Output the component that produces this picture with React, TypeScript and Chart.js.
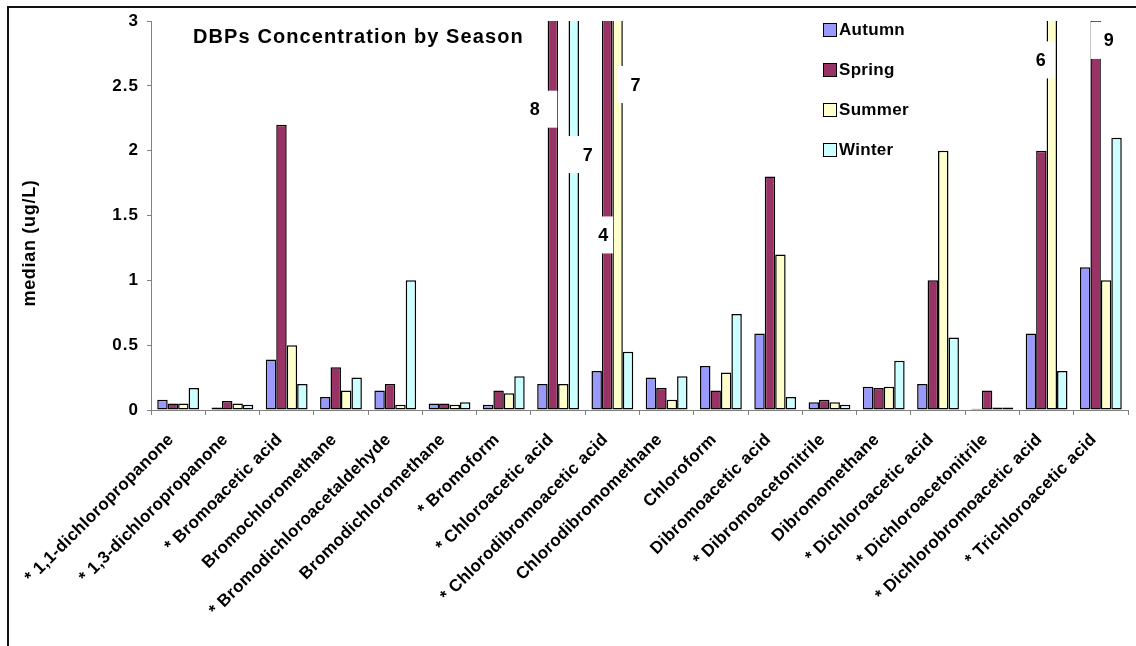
import React, { useEffect, useRef } from "react";
import { Chart, registerables } from "chart.js";

Chart.register(...registerables);

const FONT = "'Liberation Sans', Arial, Helvetica, sans-serif";

const categories = [
  "* 1,1-dichloropropanone",
  "* 1,3-dichloropropanone",
  "* Bromoacetic acid",
  "Bromochloromethane",
  "* Bromodichloroacetaldehyde",
  "Bromodichloromethane",
  "* Bromoform",
  "* Chloroacetic acid",
  "* Chlorodibromoacetic acid",
  "Chlorodibromomethane",
  "Chloroform",
  "Dibromoacetic acid",
  "* Dibromoacetonitrile",
  "Dibromomethane",
  "* Dichloroacetic acid",
  "* Dichloroacetonitrile",
  "* Dichlorobromoacetic acid",
  "* Trichloroacetic acid",
];

const seasons = ["Autumn", "Spring", "Summer", "Winter"];

// median concentrations (ug/L) per compound
const autumn = [0.08, 0.02, 0.39, 0.1, 0.15, 0.05, 0.04, 0.2, 0.3, 0.25, 0.34, 0.59, 0.06, 0.18, 0.2, 0.01, 0.59, 1.1];
const spring = [0.05, 0.07, 2.2, 0.33, 0.2, 0.05, 0.15, 8, 4, 0.17, 0.15, 1.8, 0.08, 0.17, 1.0, 0.15, 2.0, 9];
const summer = [0.05, 0.05, 0.5, 0.15, 0.04, 0.04, 0.13, 0.2, 7, 0.08, 0.29, 1.2, 0.06, 0.18, 2.0, 0.02, 6, 1.0];
const winter = [0.17, 0.04, 0.2, 0.25, 1.0, 0.06, 0.26, 7, 0.45, 0.26, 0.74, 0.1, 0.04, 0.38, 0.56, 0.02, 0.3, 2.1];

const seriesValues = [autumn, spring, summer, winter];
const seasonColors = ["#9999FF", "#993366", "#FFFFCC", "#CCFFFF"];

const yMin = 0;
const yMax = 3;
const yStep = 0.5;

// value callouts for bars that run past the top of the axis:
// series / index pick the bar, `at` is the callout centre on the value axis,
// dx / tx are box and text offsets from the bar centre, w the box width
const callouts = [
  { series: 1, index: 7, at: 2.32, dx: -10, w: 29, tx: -18 },
  { series: 3, index: 7, at: 1.97, dx: 9, w: 30, tx: 14 },
  { series: 1, index: 8, at: 1.35, dx: -2, w: 16, tx: -4 },
  { series: 2, index: 8, at: 2.51, dx: 16, w: 32, tx: 18 },
  { series: 2, index: 16, at: 2.7, dx: -8, w: 22, tx: -11 },
  { series: 1, index: 17, at: 2.85, dx: 10, w: 30, tx: 13 },
];

const chartTitle = "DBPs Concentration by Season";
const yTitle = "median (ug/L)";

const decorPlugin = {
  id: "decor",
  beforeDraw(chart: any) {
    // slightly open spacing for the axis tick text
    chart.ctx.letterSpacing = "1px";
  },
  afterDatasetsDraw(chart: any) {
    const { ctx, scales } = chart;
    ctx.save();
    ctx.letterSpacing = "0px";
    ctx.font = `bold 18px ${FONT}`;
    ctx.textAlign = "center";
    ctx.textBaseline = "middle";
    for (const c of callouts) {
      const bar = chart.getDatasetMeta(c.series).data[c.index] as any;
      const cy = scales.y.getPixelForValue(c.at);
      const h = 37;
      ctx.fillStyle = "#ffffff";
      ctx.fillRect(bar.x + c.dx - c.w / 2, cy - h / 2, c.w, h);
      ctx.fillStyle = "#000000";
      ctx.fillText(String(seriesValues[c.series][c.index]), bar.x + c.tx, cy + 1);
    }
    ctx.restore();
  },
  afterDraw(chart: any) {
    const { ctx, chartArea, scales } = chart;
    ctx.save();
    ctx.letterSpacing = "0px";
    // outer frame (top and left edges)
    ctx.strokeStyle = "#111111";
    ctx.lineWidth = 2;
    ctx.beginPath();
    ctx.moveTo(8, chart.height);
    ctx.lineTo(8, 7);
    ctx.lineTo(chart.width, 7);
    ctx.stroke();

    ctx.fillStyle = "#000000";

    // category labels, slanted at 45 degrees below the axis
    ctx.font = `bold 17px ${FONT}`;
    ctx.letterSpacing = "0.3px";
    ctx.textAlign = "right";
    ctx.textBaseline = "middle";
    categories.forEach((label, i) => {
      const x = scales.x.getPixelForValue(i);
      ctx.save();
      ctx.translate(x - 7, chartArea.bottom + 27);
      ctx.rotate(-Math.PI / 4);
      ctx.fillText(label, 0, 0);
      ctx.restore();
    });

    // title inside the plot
    ctx.font = `bold 20px ${FONT}`;
    ctx.letterSpacing = "1.1px";
    ctx.textAlign = "left";
    ctx.textBaseline = "alphabetic";
    ctx.fillText(chartTitle, chartArea.left + 42, 43);

    // value axis title
    ctx.save();
    ctx.translate(30, 243);
    ctx.rotate(-Math.PI / 2);
    ctx.font = `bold 18px ${FONT}`;
    ctx.letterSpacing = "0.7px";
    ctx.textAlign = "center";
    ctx.textBaseline = "middle";
    ctx.fillText(yTitle, 0, 0);
    ctx.restore();

    // legend
    const lx = chartArea.left + 672;
    ctx.letterSpacing = "0.3px";
    chart.data.datasets.forEach((ds: any, i: number) => {
      const base = 35 + i * 40;
      ctx.fillStyle = ds.backgroundColor;
      ctx.fillRect(lx, base - 12, 14, 14);
      ctx.strokeStyle = "#000000";
      ctx.lineWidth = 1;
      ctx.strokeRect(lx + 0.5, base - 11.5, 13, 13);
      ctx.fillStyle = "#000000";
      ctx.font = `bold 17px ${FONT}`;
      ctx.textAlign = "left";
      ctx.textBaseline = "alphabetic";
      ctx.fillText(ds.label, lx + 16, base);
    });
    ctx.restore();
  },
};

export default function App() {
  const canvasRef = useRef<HTMLCanvasElement | null>(null);

  useEffect(() => {
    const canvas = canvasRef.current;
    if (!canvas) return;
    const chart = new Chart(canvas, {
      type: "bar",
      data: {
        labels: categories,
        datasets: seasons.map((name, i) => ({
          label: name,
          data: seriesValues[i],
          backgroundColor: seasonColors[i],
          borderColor: "#000000",
          borderWidth: 1.5,
          borderSkipped: false,
          categoryPercentage: 0.77,
          barPercentage: 1,
        })),
      },
      options: {
        responsive: false,
        animation: false,
        devicePixelRatio: 1,
        layout: { padding: { left: 8, right: 8, top: 21, bottom: 0 } },
        plugins: {
          legend: { display: false },
          title: { display: false },
          tooltip: { enabled: false },
        },
        scales: {
          x: {
            grid: {
              display: true,
              drawOnChartArea: false,
              offset: true,
              tickLength: 5,
              color: "#808080",
            },
            border: { display: true, color: "#808080", width: 1 },
            ticks: { display: false, autoSkip: false },
            afterFit(scale: any) {
              scale.height = 236;
            },
          },
          y: {
            min: yMin,
            max: yMax,
            ticks: {
              stepSize: yStep,
              color: "#000000",
              padding: 8,
              font: { family: FONT, size: 17, weight: "bold" },
              callback: (v: any) => String(Number(v)),
            },
            grid: {
              display: true,
              drawOnChartArea: false,
              tickLength: 4,
              color: "#808080",
            },
            border: { display: true, color: "#808080", width: 1 },
            afterFit(scale: any) {
              scale.width = 143;
            },
          },
        },
      },
      plugins: [decorPlugin],
    });
    return () => chart.destroy();
  }, []);

  return (
    <div style={{ position: "absolute", left: 0, top: 0, width: 1136, height: 646, background: "#ffffff" }}>
      <canvas ref={canvasRef} width={1136} height={646} style={{ display: "block" }} />
    </div>
  );
}
